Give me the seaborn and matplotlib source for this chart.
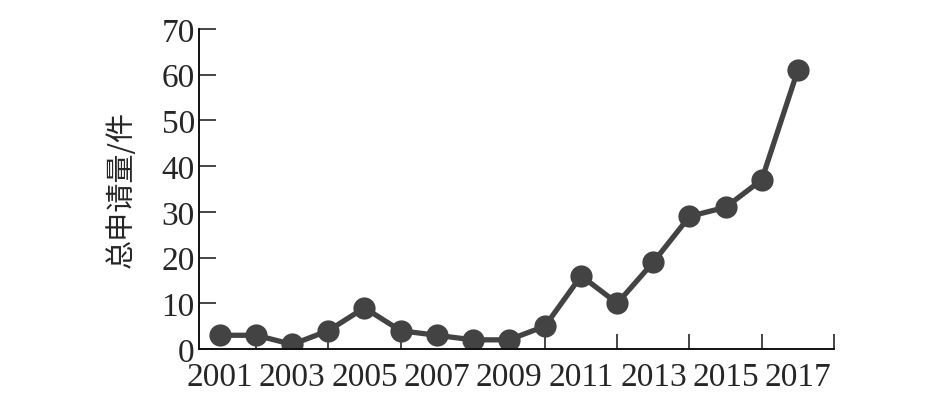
import numpy as np
import pandas as pd
import seaborn as sns
from matplotlib import pyplot as plt

years = list(range(2001, 2018))
counts = [3, 3, 1, 4, 9, 4, 3, 2, 2, 5, 16, 10, 19, 29, 31, 37, 61]
label_years = list(range(2001, 2018, 2))
y_ticks = [0, 10, 20, 30, 40, 50, 60, 70]
y_label = "总申请量/件"

LINE_COLOR = "#434343"

sns.set_style("ticks")
plt.rcParams['font.family'] = ['Liberation Serif', 'Noto Sans CJK SC']

df = pd.DataFrame({"year": years, "count": counts})

fig = plt.figure(figsize=(9.45, 4.02), dpi=100)
ax = fig.add_axes([0.2106, 0.1294, 0.6719, 0.796])

sns.lineplot(data=df, x="year", y="count", ax=ax, color=LINE_COLOR,
             linewidth=3.8, marker="o", markersize=16,
             markeredgewidth=0, markerfacecolor=LINE_COLOR)

ax.set_xlim(2000.42, 2018)
ax.set_ylim(0, 70)
ax.set_xticks(label_years)
ax.set_xticklabels([str(y) for y in label_years])
# tick marks sit on the even years, labels on the odd ones
ax.set_xticks(list(range(2002, 2019, 2)), minor=True)
ax.set_yticks(y_ticks)

ax.tick_params(axis='x', which='major', length=0, pad=9, labelsize=24)
ax.tick_params(axis='x', which='minor', direction='in', length=11, width=1.2)
ax.tick_params(axis='y', direction='in', length=12, width=1.2, pad=3, labelsize=24)

ax.set_xlabel("")
ax.set_ylabel(y_label, fontsize=21, family=['Noto Sans CJK SC'], labelpad=18)

sns.despine(ax=ax)
for side in ['left', 'bottom']:
    ax.spines[side].set_linewidth(1.4)
    ax.spines[side].set_color('#111111')

fig.savefig("out.png", dpi=100)
